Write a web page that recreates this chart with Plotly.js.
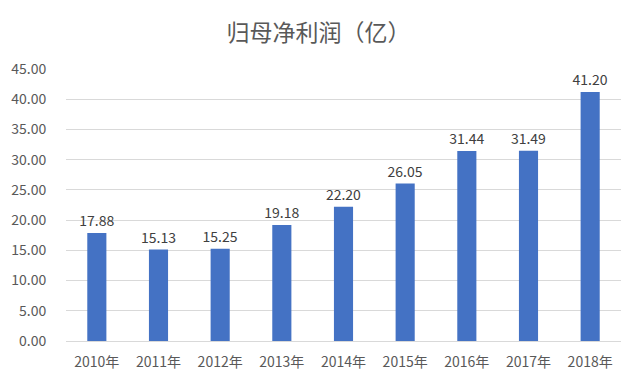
<!DOCTYPE html>
<html>
<head>
<meta charset="utf-8">
<script src="https://cdn.plot.ly/plotly-3.0.1.min.js"></script>
<style>html,body{margin:0;padding:0;background:#fff;}#chart{width:641px;height:385px;}</style>
</head>
<body>
<div id="chart"></div>
<script>
var years = ["2010年","2011年","2012年","2013年","2014年","2015年","2016年","2017年","2018年"];
var profit = [17.88, 15.13, 15.25, 19.18, 22.20, 26.05, 31.44, 31.49, 41.20];
var yTicks = [0,5,10,15,20,25,30,35,40,45];

var font = '"Microsoft YaHei","Noto Sans CJK SC","DejaVu Sans",sans-serif';
var trace = {
  type: 'bar',
  x: years,
  y: profit,
  marker: {color: '#4472C4'},
  text: profit.map(function(v){return v.toFixed(2);}),
  textposition: 'outside',
  constraintext: 'none',
  textfont: {family: font, size: 14, color: '#404040'},
  cliponaxis: false,
  hoverinfo: 'x+y'
};
var layout = {
  width: 641, height: 385,
  margin: {l: 66, r: 20, t: 69, b: 44},
  paper_bgcolor: '#fff', plot_bgcolor: '#fff',
  title: {text: '归母净利润（亿）', font: {family: font, size: 23, color: '#595959'}, x: 0.497, xanchor: 'center', y: 0.915, yanchor: 'middle'},
  bargap: 0.69,
  showlegend: false,
  xaxis: {
    tickfont: {family: font, size: 14, color: '#595959'},
    showline: true, linecolor: '#d9d9d9', linewidth: 1,
    ticks: 'outside', ticklen: 8, tickcolor: 'rgba(0,0,0,0)', showgrid: false
  },
  yaxis: {
    range: [0, 45],
    tickvals: yTicks,
    ticktext: yTicks.map(function(v){return v.toFixed(2);}),
    tickfont: {family: font, size: 14, color: '#595959'},
    gridcolor: '#d9d9d9', gridwidth: 1,
    zeroline: false, showline: false,
    ticks: 'outside', ticklen: 16, tickcolor: 'rgba(0,0,0,0)'
  }
};
Plotly.newPlot('chart', [trace], layout, {displayModeBar: false, staticPlot: true});
</script>
</body>
</html>
